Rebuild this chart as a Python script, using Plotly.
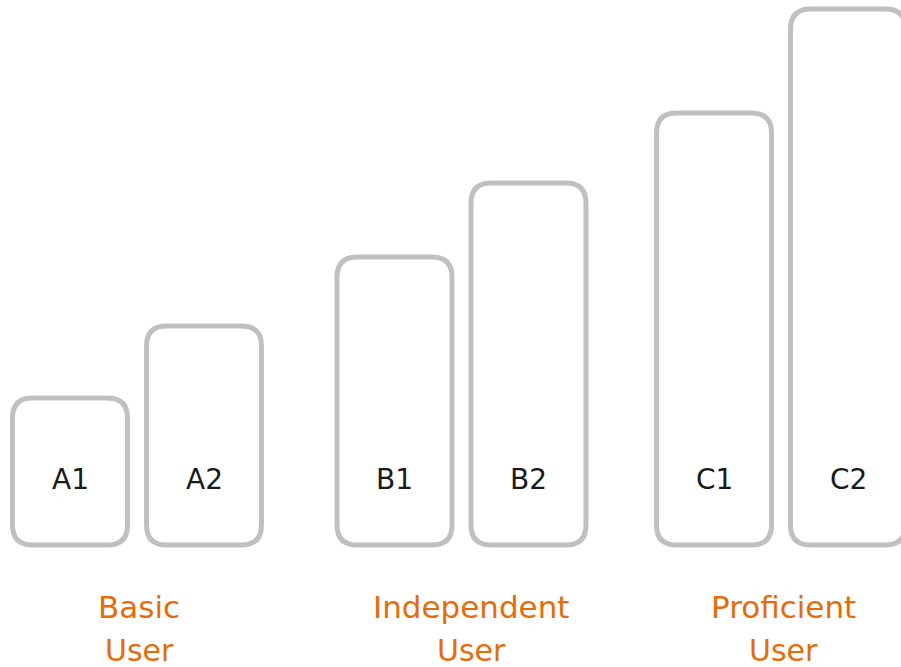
import plotly.graph_objects as go

# Data
levels = ["A1", "A2", "B1", "B2", "C1", "C2"]
group_names = ["Basic", "Independent", "Proficient"]
group_of_level = [0, 0, 1, 1, 2, 2]
heights = [147, 219, 288, 362, 432, 536]
group_centers = [137, 461.5, 781]
label_centers = [139, 471, 783]
member_offset = [-1, 1, -1, 1, -1, 1]

BAR_W = 115
OFF = 67
R = 20
STROKE = "#C0C0C0"
ORANGE = "#E46C0A"

fig = go.Figure()

shapes = []
annotations = []
for i, lv in enumerate(levels):
    cx = group_centers[group_of_level[i]] + member_offset[i] * OFF
    x0, x1 = cx - BAR_W / 2, cx + BAR_W / 2
    y0, y1 = 0, heights[i]
    path = (
        f"M {x0+R},{y0} L {x1-R},{y0} Q {x1},{y0} {x1},{y0+R} "
        f"L {x1},{y1-R} Q {x1},{y1} {x1-R},{y1} "
        f"L {x0+R},{y1} Q {x0},{y1} {x0},{y1-R} "
        f"L {x0},{y0+R} Q {x0},{y0} {x0+R},{y0} Z"
    )
    shapes.append(dict(type="path", path=path, xref="x", yref="y",
                       line=dict(color=STROKE, width=5), fillcolor="rgba(0,0,0,0)"))
    annotations.append(dict(x=cx, y=66, xref="x", yref="y", text=lv, showarrow=False,
                            font=dict(family="DejaVu Sans", size=28, color="#1a1a1a"),
                            xanchor="center", yanchor="middle"))

for g, name in enumerate(group_names):
    annotations.append(dict(x=label_centers[g], y=-62, xref="x", yref="y", text=name,
                            showarrow=False, xanchor="center", yanchor="middle",
                            font=dict(family="DejaVu Sans", size=31, color=ORANGE)))
    annotations.append(dict(x=label_centers[g], y=-105, xref="x", yref="y", text="User",
                            showarrow=False, xanchor="center", yanchor="middle",
                            font=dict(family="DejaVu Sans", size=30, color=ORANGE)))

# invisible trace to anchor axes
fig.add_trace(go.Scatter(x=[0, 901], y=[0, 0], mode="markers",
                         marker=dict(opacity=0), hoverinfo="skip", showlegend=False))

fig.update_layout(
    width=901, height=667,
    margin=dict(l=0, r=0, t=0, b=0),
    paper_bgcolor="white", plot_bgcolor="white",
    shapes=shapes, annotations=annotations,
    xaxis=dict(range=[0, 901], visible=False, fixedrange=True),
    yaxis=dict(range=[-122, 545], visible=False, fixedrange=True),
    showlegend=False,
)

fig.write_html("out.html", config={"displayModeBar": False},
               post_script="document.body.style.margin='0px';document.body.style.overflow='hidden';")
